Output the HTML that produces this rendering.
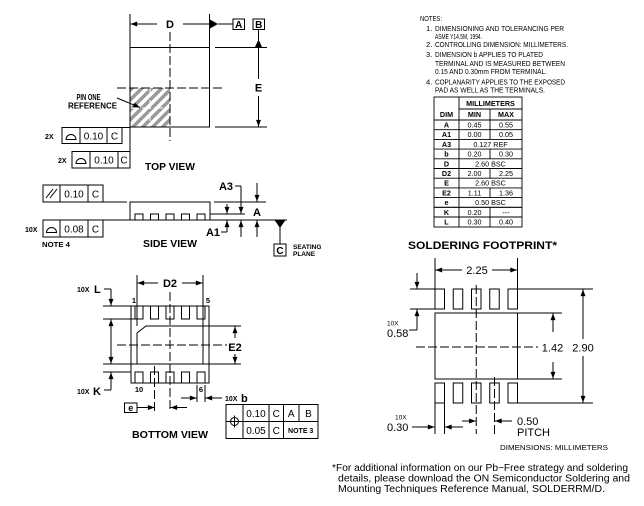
<!DOCTYPE html>
<html><head><meta charset="utf-8"><style>
html,body{margin:0;padding:0;background:#fff;}
svg{display:block;}
text{font-family:"Liberation Sans",Arial,sans-serif;fill:#000;stroke:none;}
.b{font-weight:bold;}
</style></head><body>
<svg width="644" height="506" viewBox="0 0 644 506" xmlns="http://www.w3.org/2000/svg">
<defs>
<marker id="a" viewBox="0 0 8 6" refX="8" refY="3" markerWidth="7" markerHeight="5" markerUnits="userSpaceOnUse" orient="auto"><path d="M0,0L8,3L0,6z" fill="#000"/></marker>
<pattern id="h" width="7" height="7" patternUnits="userSpaceOnUse" patternTransform="rotate(45)"><rect width="3.5" height="7" fill="#9a9a9a"/></pattern>
</defs>

<!-- ================= TOP VIEW ================= -->
<rect x="130" y="88" width="40" height="39" fill="url(#h)"/>
<g stroke="#fff" stroke-width="1"><line x1="150" y1="88" x2="150" y2="127" stroke-dasharray="9,3"/><line x1="130" y1="108" x2="170" y2="108" stroke-dasharray="9,3"/></g>
<g stroke="#000" stroke-width="1" fill="none">
<rect x="130" y="47.5" width="79.5" height="79.5"/>
<line x1="130" y1="14" x2="130" y2="152"/>
<line x1="209.5" y1="14" x2="209.5" y2="47.5"/>
<line x1="157" y1="24" x2="130.5" y2="24" marker-end="url(#a)"/>
<line x1="183" y1="24" x2="210" y2="24"/>
<line x1="218" y1="24" x2="233" y2="24"/>
<rect x="233" y="19" width="11.5" height="10.5"/>
<rect x="253" y="19" width="11.5" height="10.5"/>
<line x1="258.5" y1="29.5" x2="258.5" y2="40"/>
<line x1="215" y1="47.5" x2="267" y2="47.5"/>
<line x1="215" y1="127" x2="267" y2="127"/>
<line x1="258.5" y1="48" x2="258.5" y2="79"/>
<line x1="258.5" y1="96" x2="258.5" y2="126.5" marker-end="url(#a)"/>
<line x1="170" y1="32" x2="170" y2="141" stroke-dasharray="9,3"/>
<line x1="117" y1="88" x2="224" y2="88" stroke-dasharray="9,3"/>
<line x1="117" y1="98" x2="140" y2="107.5" marker-end="url(#a)"/>
<line x1="122" y1="127.5" x2="130" y2="127.5"/>
<!-- frame 1 -->
<rect x="62" y="127.5" width="60" height="16"/>
<line x1="80" y1="127.5" x2="80" y2="143.5"/><line x1="107" y1="127.5" x2="107" y2="143.5"/>
<path d="M66,139.5 A5,5 0 0 1 76,139.5 Z"/>
<!-- frame 2 -->
<rect x="72" y="151.5" width="58" height="16.5"/>
<line x1="90" y1="151.5" x2="90" y2="168"/><line x1="118" y1="151.5" x2="118" y2="168"/>
<path d="M76,163.5 A5,5 0 0 1 86,163.5 Z"/>
</g>
<polygon points="210,19.5 210,28.5 218,24" fill="#000"/>
<polygon points="254.5,48 262.5,48 258.5,39.5" fill="#000"/>
<text class="b" x="170" y="28" font-size="11" text-anchor="middle">D</text>
<text class="b" x="238.8" y="28" font-size="10" text-anchor="middle">A</text>
<text class="b" x="258.8" y="28" font-size="10" text-anchor="middle">B</text>
<text class="b" x="258.5" y="91.5" font-size="11" text-anchor="middle">E</text>
<text class="b" x="76.5" y="100" font-size="8.5" textLength="24" lengthAdjust="spacingAndGlyphs">PIN ONE</text>
<text class="b" x="68" y="108.5" font-size="8.5" textLength="49" lengthAdjust="spacingAndGlyphs">REFERENCE</text>
<text class="b" x="45" y="139" font-size="7">2X</text>
<text x="93.5" y="139.5" font-size="10" text-anchor="middle">0.10</text>
<text x="114.5" y="139.5" font-size="10" text-anchor="middle">C</text>
<text class="b" x="58" y="163" font-size="7">2X</text>
<text x="104" y="163.5" font-size="10" text-anchor="middle">0.10</text>
<text x="124" y="163.5" font-size="10" text-anchor="middle">C</text>
<text class="b" x="145" y="170" font-size="10.5" textLength="50" lengthAdjust="spacingAndGlyphs">TOP VIEW</text>

<!-- ================= SIDE VIEW ================= -->
<g stroke="#000" stroke-width="1" fill="none">
<rect x="43" y="185" width="60" height="17"/>
<line x1="60" y1="185" x2="60" y2="202"/><line x1="88" y1="185" x2="88" y2="202"/>
<line x1="46" y1="198" x2="53" y2="189"/><line x1="50" y1="198" x2="57" y2="189"/>
<line x1="103" y1="202" x2="127" y2="202"/>
<rect x="130" y="202" width="80" height="18"/>
<path d="M135,220V214H143V220 M150.5,220V214H158.5V220 M166,220V214H174V220 M181.5,220V214H189.5V220 M197,220V214H205V220"/>
<line x1="43" y1="220" x2="287" y2="220"/>
<rect x="43" y="220" width="60" height="17"/>
<line x1="60" y1="220" x2="60" y2="237"/><line x1="88" y1="220" x2="88" y2="237"/>
<path d="M46.5,232.5 A5,5 0 0 1 56.5,232.5 Z"/>
<line x1="214" y1="202" x2="266" y2="202"/>
<line x1="210" y1="214" x2="245" y2="214"/>
<line x1="227" y1="204" x2="227" y2="213.5" marker-end="url(#a)"/>
<line x1="227" y1="232" x2="227" y2="220.5" marker-end="url(#a)"/>
<line x1="221" y1="232" x2="227" y2="232"/>
<line x1="235" y1="186" x2="241" y2="186"/>
<line x1="241" y1="186" x2="241" y2="213.5" marker-end="url(#a)"/>
<line x1="241" y1="237" x2="241" y2="220.5" marker-end="url(#a)"/>
<line x1="257" y1="183" x2="257" y2="201.5" marker-end="url(#a)"/>
<line x1="257" y1="237" x2="257" y2="220.5" marker-end="url(#a)"/>
<line x1="280" y1="227" x2="280" y2="244"/>
<rect x="274" y="244" width="12" height="12"/>
</g>
<polygon points="274.5,220 285.5,220 280,228" fill="#000"/>
<text x="74" y="197.5" font-size="10" text-anchor="middle">0.10</text>
<text x="95.5" y="197.5" font-size="10" text-anchor="middle">C</text>
<text x="74" y="232.5" font-size="10" text-anchor="middle">0.08</text>
<text x="95.5" y="232.5" font-size="10" text-anchor="middle">C</text>
<text class="b" x="25" y="232" font-size="7">10X</text>
<text class="b" x="42" y="247" font-size="7.5" textLength="28" lengthAdjust="spacingAndGlyphs">NOTE 4</text>
<text class="b" x="233" y="190" font-size="11" text-anchor="end">A3</text>
<text class="b" x="220" y="236" font-size="11" text-anchor="end">A1</text>
<text class="b" x="257" y="216" font-size="11" text-anchor="middle">A</text>
<text class="b" x="280" y="254" font-size="10" text-anchor="middle">C</text>
<text class="b" x="293" y="249" font-size="6.5">SEATING</text>
<text class="b" x="293" y="256" font-size="6.5">PLANE</text>
<text class="b" x="143" y="247" font-size="10.5" textLength="54" lengthAdjust="spacingAndGlyphs">SIDE VIEW</text>

<!-- ================= BOTTOM VIEW ================= -->
<g stroke="#000" stroke-width="1" fill="none">
<rect x="131" y="306" width="78" height="77"/>
<rect x="135" y="306" width="8" height="13"/><rect x="150.5" y="306" width="8" height="13"/><rect x="166" y="306" width="8" height="13"/><rect x="181.5" y="306" width="8" height="13"/><rect x="197" y="306" width="8" height="13"/>
<rect x="135" y="372" width="8" height="11"/><rect x="150.5" y="372" width="8" height="11"/><rect x="166" y="372" width="8" height="11"/><rect x="181.5" y="372" width="8" height="11"/><rect x="197" y="372" width="8" height="11"/>
<polygon points="146,326 203,326 203,364 137,364 137,333"/>
<line x1="137" y1="275" x2="137" y2="326"/>
<line x1="203" y1="275" x2="203" y2="326"/>
<line x1="158" y1="283" x2="137.5" y2="283" marker-end="url(#a)"/>
<line x1="182" y1="283" x2="202.5" y2="283" marker-end="url(#a)"/>
<line x1="170" y1="292" x2="170" y2="412" stroke-dasharray="9,3"/>
<line x1="117" y1="345" x2="227" y2="345" stroke-dasharray="9,3"/>
<line x1="203" y1="326" x2="241" y2="326"/>
<line x1="203" y1="364" x2="241" y2="364"/>
<line x1="235" y1="338" x2="235" y2="326.5" marker-end="url(#a)"/>
<line x1="235" y1="354" x2="235" y2="363.5" marker-end="url(#a)"/>
<line x1="103" y1="306" x2="131" y2="306"/>
<line x1="103" y1="319" x2="135" y2="319"/>
<line x1="103" y1="364" x2="137" y2="364"/>
<line x1="103" y1="372" x2="131" y2="372"/>
<line x1="104" y1="289" x2="111" y2="289"/>
<line x1="111" y1="289" x2="111" y2="305.5" marker-end="url(#a)"/>
<line x1="111" y1="340" x2="111" y2="319.5" marker-end="url(#a)"/>
<line x1="111" y1="340" x2="111" y2="363.5" marker-end="url(#a)"/>
<line x1="111" y1="390" x2="111" y2="372.5" marker-end="url(#a)"/>
<line x1="104" y1="390" x2="111" y2="390"/>
<rect x="124.5" y="403" width="12.5" height="9.5"/>
<line x1="137" y1="407.5" x2="154.5" y2="407.5" marker-end="url(#a)"/>
<line x1="187" y1="407.5" x2="170.5" y2="407.5" marker-end="url(#a)"/>
<line x1="154.5" y1="366" x2="154.5" y2="412" stroke-dasharray="9,3"/>
<line x1="197" y1="385" x2="197" y2="402"/>
<line x1="205" y1="385" x2="205" y2="402"/>
<line x1="181" y1="398" x2="196.5" y2="398" marker-end="url(#a)"/>
<line x1="222" y1="398" x2="205.5" y2="398" marker-end="url(#a)"/>
<rect x="226" y="404.5" width="92" height="34"/>
<line x1="226" y1="421.5" x2="318" y2="421.5"/>
<line x1="243" y1="404.5" x2="243" y2="438.5"/>
<line x1="269" y1="404.5" x2="269" y2="438.5"/>
<line x1="283.5" y1="404.5" x2="283.5" y2="438.5"/>
<line x1="299" y1="404.5" x2="299" y2="421.5"/>
<circle cx="234.5" cy="421.5" r="4"/>
<line x1="228.5" y1="421.5" x2="240.5" y2="421.5"/>
<line x1="234.5" y1="415.5" x2="234.5" y2="427.5"/>
</g>
<rect x="161" y="277" width="18" height="12" fill="#fff"/>
<text class="b" x="170" y="287" font-size="11" text-anchor="middle">D2</text>
<rect x="227" y="340" width="16" height="12" fill="#fff"/>
<text class="b" x="235" y="351" font-size="11" text-anchor="middle">E2</text>
<text class="b" x="134" y="303" font-size="7.5" text-anchor="middle">1</text>
<text class="b" x="208" y="303" font-size="7.5" text-anchor="middle">5</text>
<text class="b" x="139" y="392" font-size="7.5" text-anchor="middle">10</text>
<text class="b" x="201" y="392" font-size="7.5" text-anchor="middle">6</text>
<text class="b" x="77" y="292" font-size="7">10X</text>
<text class="b" x="94" y="293" font-size="11">L</text>
<text class="b" x="77" y="394" font-size="7">10X</text>
<text class="b" x="93" y="395" font-size="11">K</text>
<text class="b" x="130.8" y="411" font-size="9" text-anchor="middle">e</text>
<text class="b" x="225" y="401" font-size="7">10X</text>
<text class="b" x="241" y="402" font-size="11">b</text>
<text x="256" y="417" font-size="10" text-anchor="middle">0.10</text>
<text x="276.2" y="417" font-size="10" text-anchor="middle">C</text>
<text x="291.2" y="417" font-size="10" text-anchor="middle">A</text>
<text x="308.5" y="417" font-size="10" text-anchor="middle">B</text>
<text x="256" y="434" font-size="10" text-anchor="middle">0.05</text>
<text x="276.2" y="434" font-size="10" text-anchor="middle">C</text>
<text class="b" x="300.7" y="433" font-size="7" text-anchor="middle">NOTE 3</text>
<text class="b" x="132" y="438" font-size="10.5" textLength="76" lengthAdjust="spacingAndGlyphs">BOTTOM VIEW</text>

<!-- ================= NOTES ================= -->
<g font-size="7.6">
<text x="420" y="21" textLength="22" lengthAdjust="spacingAndGlyphs">NOTES:</text>
<text x="426" y="31">1.</text>
<text x="435" y="31" textLength="129" lengthAdjust="spacingAndGlyphs">DIMENSIONING AND TOLERANCING PER</text>
<text x="435" y="39" textLength="47" lengthAdjust="spacingAndGlyphs">ASME Y14.5M, 1994.</text>
<text x="426" y="47">2.</text>
<text x="435" y="47" textLength="133" lengthAdjust="spacingAndGlyphs">CONTROLLING DIMENSION: MILLIMETERS.</text>
<text x="426" y="57">3.</text>
<text x="435" y="57" textLength="108" lengthAdjust="spacingAndGlyphs">DIMENSION b APPLIES TO PLATED</text>
<text x="435" y="66" textLength="130" lengthAdjust="spacingAndGlyphs">TERMINAL AND IS MEASURED BETWEEN</text>
<text x="435" y="74" textLength="112" lengthAdjust="spacingAndGlyphs">0.15 AND 0.30mm FROM TERMINAL.</text>
<text x="426" y="84.5">4.</text>
<text x="435" y="84.5" textLength="130" lengthAdjust="spacingAndGlyphs">COPLANARITY APPLIES TO THE EXPOSED</text>
<text x="435" y="92.5" textLength="110" lengthAdjust="spacingAndGlyphs">PAD AS WELL AS THE TERMINALS.</text>
</g>

<!-- table -->
<g stroke="#000" stroke-width="0.9" fill="none">
<rect x="434" y="97" width="88" height="130"/>
<line x1="459" y1="97" x2="459" y2="227"/>
<line x1="459" y1="109" x2="522" y2="109"/>
<line x1="434" y1="120" x2="522" y2="120"/>
<line x1="434" y1="129.7" x2="522" y2="129.7"/>
<line x1="434" y1="139.4" x2="522" y2="139.4"/>
<line x1="434" y1="149.1" x2="522" y2="149.1"/>
<line x1="434" y1="158.8" x2="522" y2="158.8"/>
<line x1="434" y1="168.5" x2="522" y2="168.5"/>
<line x1="434" y1="178.2" x2="522" y2="178.2"/>
<line x1="434" y1="187.9" x2="522" y2="187.9"/>
<line x1="434" y1="197.6" x2="522" y2="197.6"/>
<line x1="434" y1="207.3" x2="522" y2="207.3" stroke-width="1.2"/>
<line x1="434" y1="217" x2="522" y2="217"/>
<line x1="490" y1="109" x2="490" y2="139.4"/>
<line x1="490" y1="149.1" x2="490" y2="158.8"/>
<line x1="490" y1="168.5" x2="490" y2="178.2"/>
<line x1="490" y1="187.9" x2="490" y2="197.6"/>
<line x1="490" y1="207.3" x2="490" y2="227"/>
</g>
<g font-size="7.2" text-anchor="middle">
<text class="b" x="490.5" y="106">MILLIMETERS</text>
<text class="b" x="446.5" y="117">DIM</text>
<text class="b" x="474.5" y="117">MIN</text>
<text class="b" x="506" y="117">MAX</text>
<text class="b" x="446.5" y="127.5">A</text><text x="474.5" y="127.5">0.45</text><text x="506" y="127.5">0.55</text>
<text class="b" x="446.5" y="137.2">A1</text><text x="474.5" y="137.2">0.00</text><text x="506" y="137.2">0.05</text>
<text class="b" x="446.5" y="146.9">A3</text><text x="490.5" y="146.9">0.127 REF</text>
<text class="b" x="446.5" y="156.6">b</text><text x="474.5" y="156.6">0.20</text><text x="506" y="156.6">0.30</text>
<text class="b" x="446.5" y="166.3">D</text><text x="490.5" y="166.3">2.60 BSC</text>
<text class="b" x="446.5" y="176">D2</text><text x="474.5" y="176">2.00</text><text x="506" y="176">2.25</text>
<text class="b" x="446.5" y="185.7">E</text><text x="490.5" y="185.7">2.60 BSC</text>
<text class="b" x="446.5" y="195.4">E2</text><text x="474.5" y="195.4">1.11</text><text x="506" y="195.4">1.36</text>
<text class="b" x="446.5" y="205.1">e</text><text x="490.5" y="205.1">0.50 BSC</text>
<text class="b" x="446.5" y="214.8">K</text><text x="474.5" y="214.8">0.20</text><text x="506" y="214.8">---</text>
<text class="b" x="446.5" y="224.5">L</text><text x="474.5" y="224.5">0.30</text><text x="506" y="224.5">0.40</text>
</g>

<!-- ================= SOLDERING FOOTPRINT ================= -->
<text class="b" x="408" y="249" font-size="11" textLength="149" lengthAdjust="spacingAndGlyphs">SOLDERING FOOTPRINT*</text>
<g stroke="#000" stroke-width="1" fill="none">
<rect x="435" y="289" width="9.5" height="20"/><rect x="453.25" y="289" width="9.5" height="20"/><rect x="471.5" y="289" width="9.5" height="20"/><rect x="489.75" y="289" width="9.5" height="20"/><rect x="508" y="289" width="9.5" height="20"/>
<rect x="435" y="313" width="82.5" height="66"/>
<rect x="435" y="383" width="9.5" height="20"/><rect x="453.25" y="383" width="9.5" height="20"/><rect x="471.5" y="383" width="9.5" height="20"/><rect x="489.75" y="383" width="9.5" height="20"/><rect x="508" y="383" width="9.5" height="20"/>
<line x1="435" y1="258" x2="435" y2="289"/>
<line x1="517.5" y1="258" x2="517.5" y2="289"/>
<line x1="462" y1="270" x2="435.5" y2="270" marker-end="url(#a)"/>
<line x1="492" y1="270" x2="517" y2="270" marker-end="url(#a)"/>
<line x1="476.25" y1="285" x2="476.25" y2="434" stroke-dasharray="9,3"/>
<line x1="494.5" y1="377" x2="494.5" y2="434" stroke-dasharray="9,3"/>
<line x1="416" y1="347" x2="538" y2="347" stroke-dasharray="9,3"/>
<line x1="517.5" y1="289" x2="593" y2="289"/>
<line x1="517.5" y1="403" x2="593" y2="403"/>
<line x1="517.5" y1="313" x2="562" y2="313"/>
<line x1="517.5" y1="379" x2="562" y2="379"/>
<line x1="583" y1="339" x2="583" y2="289.5" marker-end="url(#a)"/>
<line x1="583" y1="356" x2="583" y2="402.5" marker-end="url(#a)"/>
<line x1="553" y1="332" x2="553" y2="313.5" marker-end="url(#a)"/>
<line x1="553" y1="362" x2="553" y2="378.5" marker-end="url(#a)"/>
<line x1="410" y1="289" x2="435" y2="289"/>
<line x1="410" y1="309" x2="435" y2="309"/>
<line x1="417" y1="273" x2="417" y2="288.5" marker-end="url(#a)"/>
<line x1="417" y1="330" x2="417" y2="309.5" marker-end="url(#a)"/>
<line x1="409" y1="330" x2="417" y2="330"/>
<line x1="435" y1="403" x2="435" y2="434"/>
<line x1="444.5" y1="403" x2="444.5" y2="434"/>
<line x1="412" y1="427" x2="434.5" y2="427" marker-end="url(#a)"/>
<line x1="463" y1="427" x2="445" y2="427" marker-end="url(#a)"/>
<line x1="462" y1="421" x2="475.75" y2="421" marker-end="url(#a)"/>
<line x1="512" y1="421" x2="495" y2="421" marker-end="url(#a)"/>
</g>
<rect x="540" y="340" width="56" height="14" fill="#fff"/>
<text x="477" y="274" font-size="11" text-anchor="middle">2.25</text>
<text x="552.5" y="351.5" font-size="11" text-anchor="middle">1.42</text>
<text x="583" y="351.5" font-size="11" text-anchor="middle">2.90</text>
<text x="387" y="325.5" font-size="6.5">10X</text>
<text x="387" y="337" font-size="11">0.58</text>
<text x="395" y="419.5" font-size="6.5">10X</text>
<text x="387" y="431" font-size="11">0.30</text>
<text x="517" y="425" font-size="11">0.50</text>
<text x="517" y="436" font-size="11">PITCH</text>
<text x="500" y="450" font-size="7" textLength="108" lengthAdjust="spacingAndGlyphs">DIMENSIONS: MILLIMETERS</text>

<!-- ================= FOOTER ================= -->
<text x="332" y="471" font-size="10" textLength="296" lengthAdjust="spacingAndGlyphs">*For additional information on our Pb−Free strategy and soldering</text>
<text x="338" y="481.5" font-size="10" textLength="292" lengthAdjust="spacingAndGlyphs">details, please download the ON Semiconductor Soldering and</text>
<text x="338" y="492" font-size="10" textLength="267" lengthAdjust="spacingAndGlyphs">Mounting Techniques Reference Manual, SOLDERRM/D.</text>
</svg>
</body></html>
